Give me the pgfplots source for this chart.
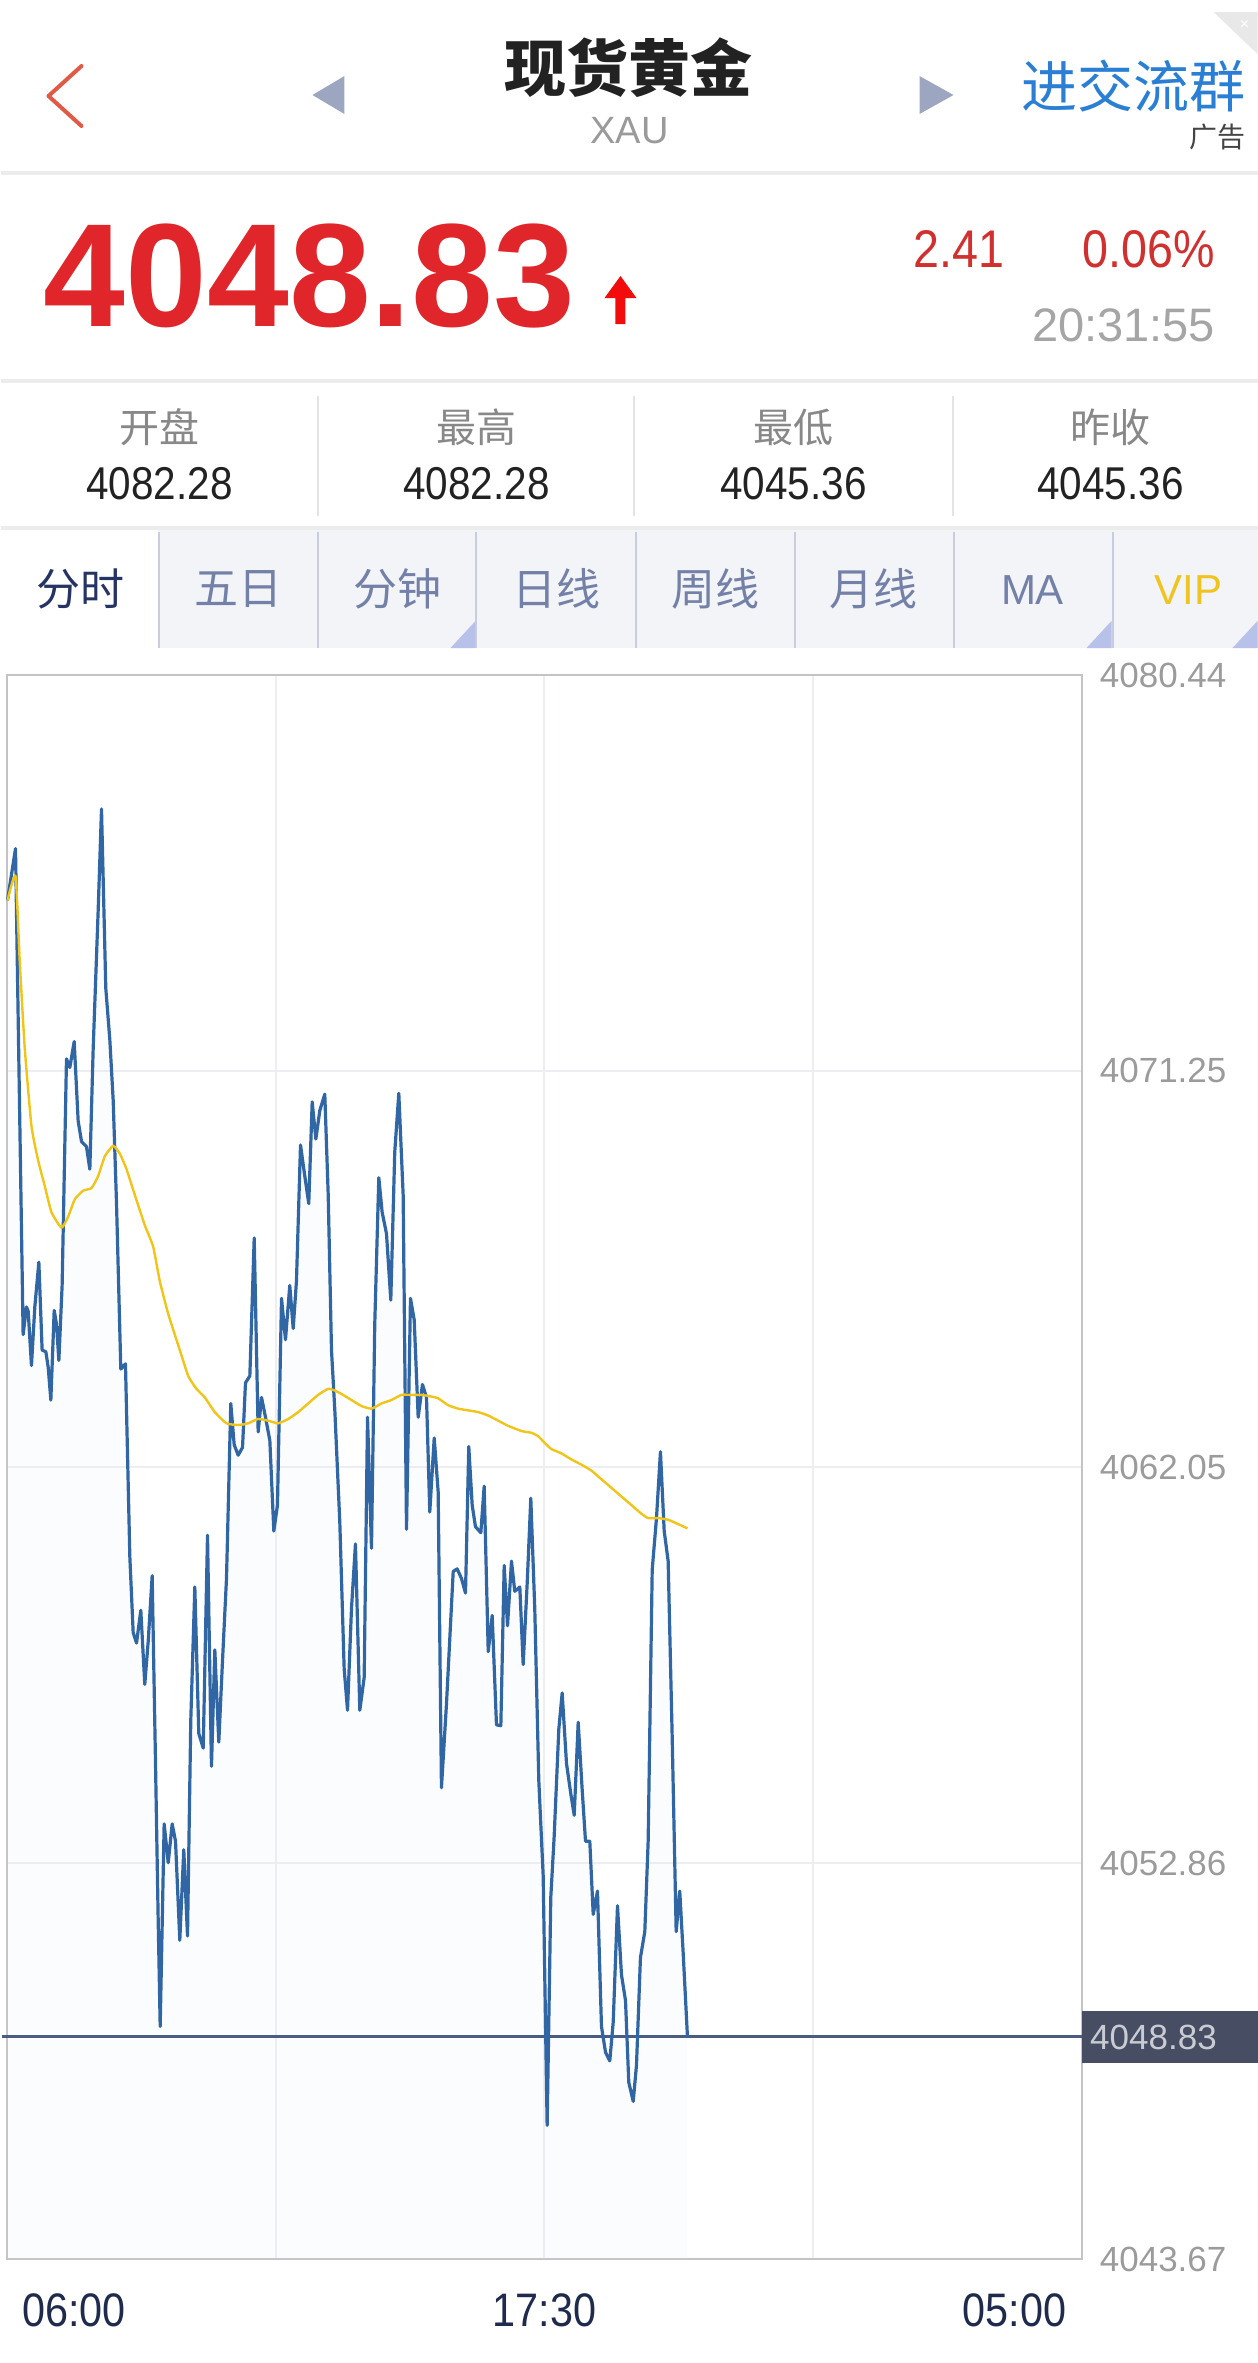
\documentclass[border=0pt]{standalone}
\usepackage{pgfplots}
\pgfplotsset{compat=1.18}
\usepackage{pgfplotstable}
\usepgfplotslibrary{fillbetween}
\usepackage{fontspec}
\setmainfont{Liberation Sans}
\newfontfamily\cjk{Noto Sans CJK SC}
\newfontfamily\condfont[FakeStretch=0.88]{Liberation Sans}

\definecolor{priceblue}{HTML}{2F66A3}
\definecolor{magold}{HTML}{F0C419}
\definecolor{gridc}{HTML}{EDEEF2}
\definecolor{framec}{HTML}{C4C4C6}
\definecolor{lastline}{HTML}{4A5C82}
\definecolor{boxc}{HTML}{474E63}
\definecolor{redA}{HTML}{E0262A}
\definecolor{redB}{HTML}{D0302E}
\definecolor{tabbg}{HTML}{F3F4F7}
\definecolor{tabtxt}{HTML}{7381A8}
\definecolor{navy}{HTML}{1F2B4D}
\definecolor{labgrey}{HTML}{9B9B9B}
\definecolor{sepc}{HTML}{ECECEC}
\definecolor{fillMid}{HTML}{DCE5F3}

\pgfplotstableread{
t p
0 4075.21
10.3 4076.41
20.1 4065.13
24.4 4065.77
26.6 4065.67
30.8 4064.41
35.1 4065.77
40.3 4066.81
44.5 4064.77
49.3 4064.73
52.3 4064.37
55.7 4063.61
60.0 4065.69
63.0 4065.37
66.0 4064.53
70.2 4066.27
75.8 4071.53
80.1 4071.33
85.7 4071.93
90.8 4070.09
95.1 4069.61
101.5 4069.49
105.8 4068.97
110.1 4071.77
116.5 4074.97
120.8 4077.33
126.3 4073.17
131.5 4071.97
135.8 4070.57
140.1 4068.17
145.6 4064.33
151.6 4064.45
157.2 4059.97
161.5 4058.21
165.8 4057.97
171.3 4058.73
176.4 4057.01
180.8 4058.01
185.9 4059.53
190.2 4055.17
193.6 4051.57
196.2 4049.07
201.3 4053.77
206.5 4052.87
211.6 4053.77
215.9 4053.37
221.4 4051.07
226.5 4053.17
231.3 4051.17
235.5 4056.17
240.7 4059.27
245.8 4055.87
251.5 4055.53
257.0 4060.47
262.1 4055.11
266.4 4057.81
271.5 4055.67
276.3 4057.57
281.4 4059.47
286.9 4063.53
291.3 4062.57
296.4 4062.33
302.0 4062.51
305.8 4064.01
311.4 4064.17
317.0 4067.37
322.1 4062.87
326.4 4063.67
331.5 4063.21
337.1 4062.67
342.2 4060.57
346.9 4061.17
352.1 4065.97
357.2 4065.01
362.7 4066.27
367.1 4065.27
371.3 4066.37
376.5 4069.53
382.0 4068.81
387.1 4068.17
391.5 4070.53
396.2 4069.67
401.3 4070.33
407.7 4070.71
412.1 4068.37
416.3 4064.77
420.6 4063.37
427.0 4060.77
432.6 4057.37
436.9 4056.41
442.0 4058.77
447.1 4060.27
452.7 4056.41
458.3 4057.17
462.6 4063.21
467.7 4060.17
471.9 4065.37
477.1 4068.77
481.4 4067.97
487.0 4067.47
492.5 4065.93
497.6 4069.37
502.8 4070.73
508.4 4068.37
512.7 4060.61
517.8 4065.97
522.6 4065.47
527.7 4063.21
533.2 4063.97
538.4 4063.67
542.6 4061.01
548.3 4062.73
553.4 4061.47
557.6 4054.61
564.1 4056.57
572.7 4059.63
577.8 4059.69
583.3 4059.47
588.5 4059.13
592.7 4062.53
597.1 4061.17
601.3 4060.67
608.2 4060.53
612.5 4061.61
617.7 4057.77
622.8 4058.61
628.3 4056.07
633.9 4056.05
638.2 4059.77
642.5 4058.37
647.6 4059.87
651.8 4059.17
658.3 4059.27
662.6 4057.47
667.8 4059.37
672.4 4061.33
677.5 4058.77
682.7 4054.77
688.3 4052.57
693.4 4046.77
698.1 4052.07
702.4 4053.47
708.4 4055.97
712.7 4056.81
718.3 4055.17
723.8 4054.47
728.2 4053.97
733.3 4056.13
738.4 4054.57
742.7 4053.37
748.2 4053.37
752.6 4051.67
758.1 4052.21
763.2 4049.07
768.4 4048.47
773.9 4048.27
778.3 4049.17
783.8 4051.87
788.9 4050.27
794.1 4049.67
798.3 4047.77
804.0 4047.33
808.2 4048.17
813.3 4050.67
818.9 4051.27
823.2 4053.37
828.4 4059.67
833.9 4060.87
839.0 4062.41
843.8 4060.57
848.9 4059.87
854.1 4055.77
859.2 4051.27
863.8 4052.21
868.2 4050.77
873.7 4048.83
}\pricedata

\pgfplotstableread{
t m
0 4075.21
10.3 4075.77
15.8 4073.77
22.2 4071.77
30.8 4069.97
39.4 4069.17
48.0 4068.57
56.5 4067.97
69.4 4067.61
78.0 4067.87
86.5 4068.27
97.2 4068.47
107.9 4068.53
116.5 4068.81
125.1 4069.27
135.8 4069.51
144.3 4069.33
152.9 4068.97
163.6 4068.37
176.4 4067.67
187.2 4067.17
195.7 4066.37
206.5 4065.61
221.4 4064.77
232.2 4064.17
242.8 4063.87
253.5 4063.67
266.4 4063.33
281.4 4063.07
296.4 4063.03
309.3 4063.07
322.1 4063.17
335.0 4063.13
347.8 4063.07
360.7 4063.17
373.5 4063.33
386.4 4063.53
399.2 4063.73
412.1 4063.87
420.6 4063.83
429.2 4063.75
442.0 4063.61
454.9 4063.47
467.7 4063.41
480.6 4063.53
493.4 4063.61
506.3 4063.73
519.1 4063.73
532.0 4063.73
544.8 4063.69
553.4 4063.65
566.2 4063.49
579.1 4063.41
592.0 4063.37
604.8 4063.33
617.7 4063.25
630.5 4063.13
643.4 4063.01
660.5 4062.89
673.3 4062.85
681.9 4062.77
690.5 4062.61
699.0 4062.47
711.9 4062.37
724.7 4062.23
737.5 4062.11
750.4 4061.97
763.2 4061.77
776.1 4061.57
788.9 4061.37
801.8 4061.17
814.6 4060.97
823.2 4060.87
836.1 4060.87
848.9 4060.83
861.8 4060.73
873.7 4060.63
}\madata

\begin{document}
\begin{tikzpicture}
\begin{scope}[x=0.5pt,y=-0.5pt]
\useasboundingbox (0,0) rectangle (1256,2363);
% top bar
\draw[color={rgb,255:red,224;green,90;blue,69}, line width=2pt, line cap=round, line join=round] (80,66) -- (47,96) -- (80,126);
\fill[color={rgb,255:red,157;green,166;blue,192}] (311,95) -- (343,76) -- (343,114) -- cycle;
\fill[color={rgb,255:red,157;green,166;blue,192}] (952,95) -- (918,76) -- (918,114) -- cycle;
\node[font=\cjk\bfseries\fontsize{31pt}{32pt}\selectfont, text={rgb,255:red,34;green,34;blue,34}] at (627,68) {现货黄金};
\node[font=\fontsize{19pt}{20pt}\selectfont, text={rgb,255:red,154;green,154;blue,154}] at (628,131) {XAU};
\node[font=\cjk\fontsize{28pt}{29pt}\selectfont, text={rgb,255:red,42;green,127;blue,212}] at (1132,86) {进交流群};
\node[font=\cjk\fontsize{14pt}{15pt}\selectfont, text={rgb,255:red,68;green,68;blue,68}] at (1216,137) {广告};
\fill[color={rgb,255:red,232;green,232;blue,232}] (1212,12) -- (1256,12) -- (1256,54) -- cycle;
\node[font=\fontsize{8pt}{9pt}\selectfont, text=white] at (1243,25) {×};
\fill[sepc] (0,171) rectangle (1256,175);
% price row
\node[font=\bfseries\fontsize{73.5pt}{74pt}\selectfont, text=redA, anchor=base west, inner sep=0pt] at (42,326) {4048.83};
\fill[color={rgb,255:red,242;green,12;blue,12}] (619,276) -- (635,298) -- (624,298) -- (624,324) -- (614,324) -- (614,298) -- (603,298) -- cycle;
\node[font=\condfont\fontsize{26.5pt}{27pt}\selectfont, text=redB, anchor=base east, inner sep=0pt] at (1003,267) {2.41};
\node[font=\condfont\fontsize{26.5pt}{27pt}\selectfont, text=redB, anchor=base east, inner sep=0pt] at (1214,267) {0.06\%};
\node[font=\fontsize{23.5pt}{24pt}\selectfont, text={rgb,255:red,165;green,165;blue,165}, anchor=base east, inner sep=0pt] at (1214,341) {20:31:55};
\fill[sepc] (0,379) rectangle (1256,383);
% stats row
\foreach \cx/\lab/\val in {158/开盘/4082.28, 475/最高/4082.28, 792/最低/4045.36, 1109/昨收/4045.36}{
  \node[font=\cjk\fontsize{20pt}{21pt}\selectfont, text={rgb,255:red,136;green,136;blue,136}] at (\cx,427) {\lab};
  \node[font=\condfont\fontsize{23pt}{24pt}\selectfont, text={rgb,255:red,34;green,34;blue,34}, anchor=base, inner sep=0pt] at (\cx,499) {\val};
}
\foreach \sx in {316.5,633,951}{
  \draw[color={rgb,255:red,228;green,228;blue,228}, line width=1pt] (\sx,396) -- (\sx,516);
}
\fill[sepc] (0,526) rectangle (1256,530);
% tab bar
\fill[tabbg] (157,530) rectangle (1256,648);
\foreach \sx in {158,316.5,475,634.5,793,952,1111}{
  \draw[color={rgb,255:red,200;green,206;blue,224}, line width=1pt] (\sx,532) -- (\sx,648);
}
\fill[color={rgb,255:red,183;green,193;blue,234}] (474,621) -- (474,648) -- (449,648) -- cycle;
\fill[color={rgb,255:red,183;green,193;blue,234}] (1110,621) -- (1110,648) -- (1085,648) -- cycle;
\fill[color={rgb,255:red,183;green,193;blue,234}] (1256,621) -- (1256,648) -- (1231,648) -- cycle;
\node[font=\cjk\fontsize{22pt}{23pt}\selectfont, text={rgb,255:red,38;green,52;blue,100}] at (79,589) {分时};
\foreach \cx/\lab in {237/五日, 396/分钟, 555/日线, 714/周线, 872/月线}{
  \node[font=\cjk\fontsize{22pt}{23pt}\selectfont, text=tabtxt] at (\cx,589) {\lab};
}
\node[font=\fontsize{21pt}{22pt}\selectfont, text=tabtxt] at (1031,590) {MA};
\node[font=\fontsize{21pt}{22pt}\selectfont, text={rgb,255:red,240;green,196;blue,32}] at (1187,590) {VIP};
\end{scope}

\begin{axis}[
  at={(3pt,-1129.5pt)}, anchor=south west,
  scale only axis, width=537pt, height=792pt,
  xmin=0, xmax=1380, ymin=4043.67, ymax=4080.44,
  clip=false,
  axis line style={draw=framec, line width=1pt},
  xtick={0,345,690,1035,1380},
  xticklabels={\makebox[0pt][l]{\hspace{7.5pt}06:00},{},17:30,{},\makebox[0pt][r]{05:00\hspace{7.5pt}}},
  xticklabel style={font=\condfont\fontsize{23.5pt}{24pt}\selectfont, text=navy, anchor=north, inner sep=0pt, yshift=-17pt},
  ytick={4043.67,4052.86,4062.05,4071.25,4080.44},
  yticklabels={4043.67,4052.86,4062.05,4071.25,4080.44},
  yticklabel pos=right,
  yticklabel style={font=\fontsize{17.5pt}{18pt}\selectfont, text=labgrey, anchor=west, inner sep=0pt, xshift=9pt},
  major tick length=0pt,
  grid=major,
  major grid style={draw=gridc, line width=1pt},
]
\addplot[draw=none, name path=price, forget plot] table[x=t,y=p]{\pricedata};
\addplot[draw=none, name path=base, forget plot] coordinates {(0,4043.67) (873.7,4043.67)};
\pgfplotsinvokeforeach{4043.67,4047,4050.5,4054,4057.5,4061,4064.5,4068,4071.5}{
  \addplot[fill=fillMid, fill opacity=0.11, draw=none, forget plot] fill between[of=price and base, soft clip={(axis cs:0,#1) rectangle (axis cs:1380,4081)}];
}
\addplot[lastline, line width=1.5pt] coordinates {(-7.7,4048.83) (1380,4048.83)};
\addplot[priceblue, line width=1.6pt, line join=round] table[x=t,y=p]{\pricedata};
\addplot[magold, line width=1.2pt, smooth, tension=0.3] table[x=t,y=m]{\madata};
\end{axis}

\begin{scope}[x=0.5pt,y=-0.5pt]
\fill[boxc] (1080,2011) rectangle (1256,2063);
\node[font=\fontsize{17.5pt}{18pt}\selectfont, text={rgb,255:red,201;green,204;blue,211}] at (1152,2037) {4048.83};
\end{scope}
\end{tikzpicture}
\end{document}
